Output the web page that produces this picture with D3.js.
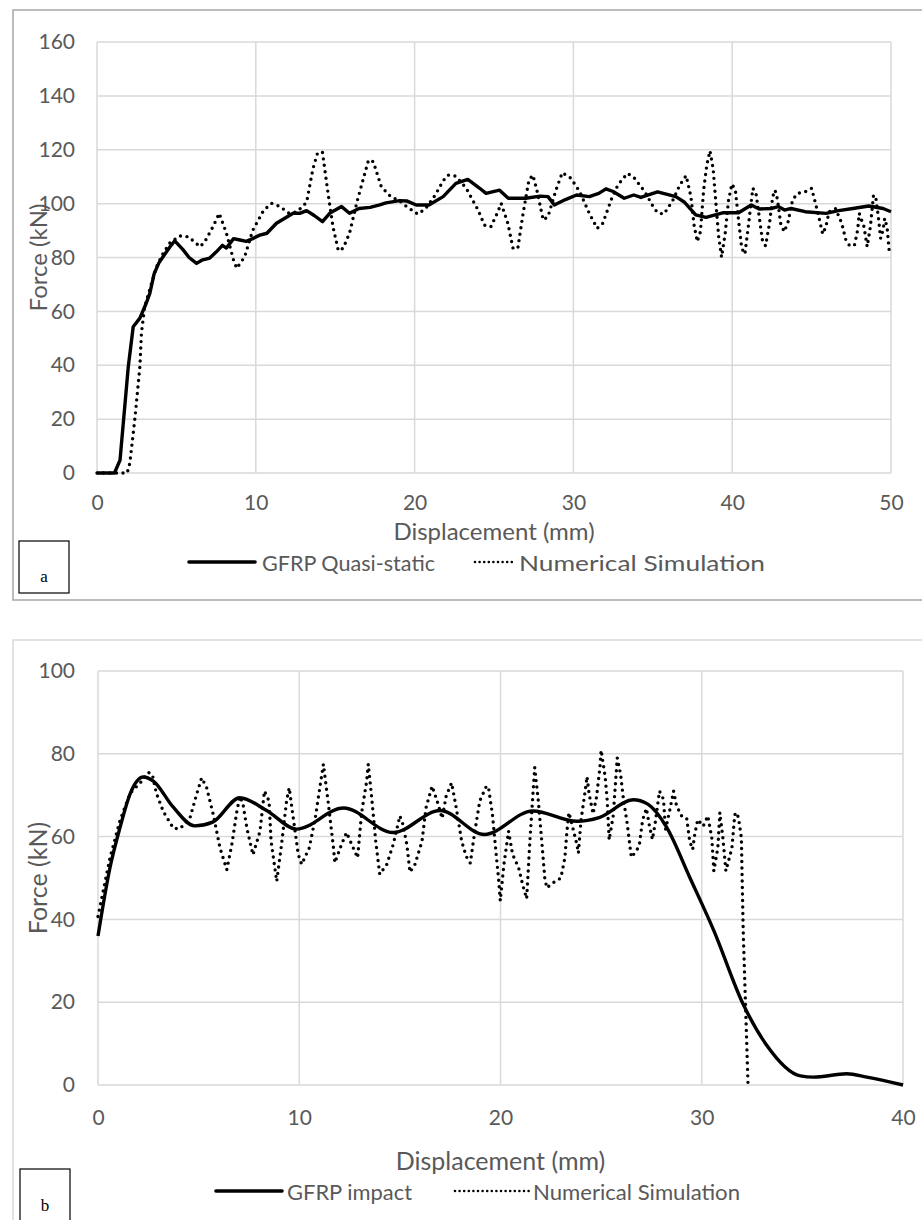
<!DOCTYPE html>
<html><head><meta charset="utf-8">
<script src="https://cdn.jsdelivr.net/npm/d3@7/dist/d3.min.js"></script>
<style>
body{margin:0;background:#fff;}
svg{display:block;}
</style></head>
<body>
<svg id="chart" width="922" height="1220"></svg>
<script>
// ---------- Panel a data ----------
const aXTicks = [0,10,20,30,40,50];
const aYTicks = [0,20,40,60,80,100,120,140,160];
const aQsX = [0,1.1,1.45,1.97,2.28,2.7,3.1,3.33,3.6,3.9,4.16,4.6,4.9,5.4,5.8,6.27,6.6,7.1,7.5,7.9,8.15,8.6,9.0,9.4,9.8,10.25,10.7,11.3,11.8,12.35,12.77,13.2,13.7,14.2,14.65,15.4,15.9,16.5,17.2,17.8,18.2,19.06,19.5,20.1,20.9,21.8,22.6,23.35,24.1,24.5,25.35,25.9,27.0,27.9,28.4,28.8,29.5,30.2,31.0,31.6,32.05,32.5,33.2,33.8,34.25,35.3,36.45,37.0,37.7,38.35,39.4,40.4,41.2,41.7,42.5,42.9,43.3,43.7,44.6,45.9,46.7,47.6,48.6,49.5,50];
const aQsY = [0,0,4.8,39.5,54.3,57.5,63,66.8,74,78,80.3,84,86.2,83,80,77.8,79,79.8,82,84.5,83.5,87,86.5,86,87,88.3,89,92.7,94.5,96.4,96.4,97.4,95.5,93.3,96.4,98.9,96.4,98.2,98.6,99.5,100.3,101.1,101,99.5,99.5,102.6,107.5,109,105.7,103.8,105,102,102,102.8,102.6,99.5,101.5,103.2,102.6,103.8,105.5,104.5,102,103.2,102.3,104.4,102.6,100.5,95.8,94.9,96.6,96.6,99.5,98,98.2,98.9,97.6,98.2,97,96.4,97.4,98.2,99.1,98.2,97];
const aSimX = [0,1.9,2.07,2.4,2.7,2.8,3.0,3.44,3.75,4.17,4.6,5.2,5.75,6.5,6.8,7.3,7.7,8.15,8.6,8.8,9.3,9.8,10.5,11.0,11.5,12.1,12.6,13.2,13.6,13.9,14.2,14.55,14.86,15.2,15.5,15.9,16.4,17.1,17.4,17.9,18.5,19.06,19.5,20.2,20.7,21.3,21.8,22.1,22.6,23.25,24.0,24.4,24.8,25.25,25.45,25.87,26.2,26.5,26.8,27.2,27.45,27.7,28.1,28.4,28.9,29.3,29.85,30.4,31.0,31.5,31.85,32.4,32.8,33.4,33.8,34.5,35.0,35.3,35.7,36.25,36.7,37.1,37.4,37.6,37.8,38.0,38.2,38.4,38.6,38.8,39.0,39.15,39.33,39.56,39.77,39.98,40.2,40.4,40.6,40.8,41.0,41.3,41.5,41.7,41.9,42.1,42.35,42.55,42.7,42.85,43.05,43.27,43.5,43.8,44.1,44.6,45.0,45.26,45.5,45.7,45.9,46.1,46.5,46.9,47.15,47.4,47.7,47.9,48.0,48.3,48.5,48.7,48.9,49.05,49.2,49.35,49.5,49.6,49.75,49.9];
const aSimY = [0,0,3.7,21,39.5,52,61.7,70.5,76.6,81.6,85.5,88,87.7,84,86,91.4,96.4,89,79,76,80.3,90,97.6,100.1,99,96.4,97,100.5,113,119,119,103.8,91.4,82.5,83.4,89,101.3,116.2,115.6,106.3,102.6,101,98.9,96.1,98.2,103.2,108.5,110.6,110.2,105.7,97.6,92,91.4,97,100.1,92.7,83.4,83.4,95.2,108.8,110.6,105,93.9,95.2,105,111.5,109.4,104.4,96.4,90.8,92.7,101.7,106.9,111.2,109.8,104.4,99.1,96.6,96.1,101.1,106.9,110.4,102.6,92,85.9,89.6,105,114.3,119.6,113,98.2,87.7,80.1,89,101.3,107.3,105,93.9,83.4,81.3,90.8,105.7,103.8,95.2,86.5,84.3,92.7,102.6,105,101.6,92.7,89.6,92.7,101.3,103.8,104.4,105.7,99.8,93.9,88.7,91.4,97,98.2,92.7,86.7,84.3,84.6,90.2,96.4,91.4,84,91.4,103.2,102,95.2,87.1,90.2,94.5,91.4,81.6];

// ---------- Panel b data ----------
const bXTicks = [0,10,20,30,40];
const bYTicks = [0,20,40,60,80,100];
const bImpX = [0,0.6,1.1,1.6,2.25,2.75,3.74,4.8,5.7,7.05,8.38,9.87,12.2,14.67,17.0,19.2,21.6,23.8,24.9,26.6,27.3,28.25,29.4,30.6,32.06,33.2,34.9,35.55,37.2,38.2,40];
const bImpY = [36,52.6,62.3,70.4,74.4,73.4,67.1,62.6,63.5,69.4,66.3,61.8,66.9,61,66.3,60.5,66.2,63.7,64.6,68.9,67.9,62.3,50.2,37.3,19.5,9.8,2.2,1.9,2.7,1.9,0];
const bSimX = [0,0.6,1.1,1.6,2.1,2.5,2.7,2.9,3.25,3.75,4.07,4.57,4.9,5.15,5.4,5.73,6.06,6.4,6.65,6.9,7.05,7.2,7.4,7.7,8.05,8.27,8.5,8.6,8.88,9.1,9.37,9.5,9.7,9.95,10.12,10.5,10.8,11.05,11.2,11.45,11.7,11.77,12.1,12.35,12.68,12.9,13.1,13.35,13.43,13.6,13.8,14.0,14.35,14.67,15.0,15.15,15.35,15.5,15.75,16.1,16.3,16.6,16.85,17.1,17.3,17.57,17.8,18.07,18.3,18.5,18.7,18.97,19.3,19.4,19.6,19.77,19.9,19.99,20.17,20.4,20.6,20.9,21.1,21.3,21.46,21.6,21.7,21.88,22.05,22.2,22.3,22.6,23.0,23.2,23.3,23.4,23.6,23.8,23.87,24.0,24.2,24.3,24.4,24.6,24.77,24.94,25.0,25.2,25.3,25.4,25.6,25.8,25.97,26.1,26.3,26.5,26.75,26.9,27.06,27.25,27.4,27.55,27.7,27.9,28.1,28.2,28.4,28.6,28.75,29.0,29.25,29.4,29.55,29.65,29.8,30.07,30.3,30.5,30.6,30.8,30.9,31.05,31.2,31.4,31.5,31.64,31.76,31.85,31.97,32.0,32.06,32.3];
const bSimY = [40.7,55,64,70.5,73,75.5,75,70.5,66,62,61.9,64.5,70.2,74.2,71.8,65.3,57.3,52,58.1,66.1,69.7,68,62,55.6,61.3,71,68.6,58.9,49.2,57.3,68.6,71.8,64.6,55.7,53.3,57.3,64.6,72.7,77.5,67.8,57.3,53.7,58.1,61,57.3,54.9,65.8,73.4,77.5,69.4,58.9,50.9,53.3,58.1,65,63,58,51.4,53.3,58.9,67,72.2,68.6,64.4,69.8,73,67,58.9,55.2,53.6,60.5,68.6,72.2,72,65.3,56.5,50,44.5,53.3,61.3,55.7,52.5,48.4,45,58.9,69.4,76.7,68.6,58.9,50,47.6,48.8,50,54.9,61.3,65.8,62,58,56,63.9,70.8,74.5,70.4,65.5,69.5,76.7,80.9,74.5,68.9,59.2,65,79,75,69.4,63,55,56.5,58,64,66.8,62.6,59.3,63.7,71,69,61.7,66.1,71,67.4,65,64.5,58.9,56.9,60.5,64.1,62.5,65,59.7,51.7,57.3,65.8,59.7,51.7,55.4,57.3,65.3,65.8,63.7,59.7,51.7,37.2,0];

const svg = d3.select("#chart");
const SANS = "Lato, 'Open Sans', sans-serif";

function panel(cfg) {
  const g = svg.append("g");
  g.append("rect").attr("x", cfg.frame[0]).attr("y", cfg.frame[1])
    .attr("width", cfg.frame[2]).attr("height", cfg.frame[3])
    .attr("fill", "#fff").attr("stroke", cfg.frameColor).attr("stroke-width", 1.5);

  const x = d3.scaleLinear().domain(cfg.xDom).range([cfg.L, cfg.R]);
  const y = d3.scaleLinear().domain(cfg.yDom).range([cfg.B, cfg.T]);

  g.append("g").selectAll("line").data(cfg.yTicks).join("line")
    .attr("x1", cfg.L).attr("x2", cfg.R)
    .attr("y1", d => y(d)).attr("y2", d => y(d))
    .attr("stroke", "#d9d9d9").attr("stroke-width", 1.5);
  g.append("g").selectAll("line").data(cfg.xTicks).join("line")
    .attr("y1", cfg.T).attr("y2", cfg.B)
    .attr("x1", d => x(d)).attr("x2", d => x(d))
    .attr("stroke", "#d9d9d9").attr("stroke-width", 1.5);

  const ya = g.append("g").attr("transform", `translate(${cfg.L},0)`)
    .call(d3.axisLeft(y).tickValues(cfg.yTicks).tickSize(0).tickPadding(cfg.L - cfg.yLabelRight));
  ya.select(".domain").remove();
  ya.selectAll("text").attr("font-family", SANS).attr("font-size", cfg.tickFs).attr("fill", "#595959");

  const xa = g.append("g").attr("transform", `translate(0,${cfg.B})`)
    .call(d3.axisBottom(x).tickValues(cfg.xTicks).tickSize(0).tickPadding(cfg.xLabelPad));
  xa.select(".domain").remove();
  xa.selectAll("text").attr("font-family", SANS).attr("font-size", cfg.tickFs).attr("fill", "#595959");

  g.append("text").attr("x", (cfg.L + cfg.R) / 2).attr("y", cfg.xTitleY)
    .attr("text-anchor", "middle").attr("dominant-baseline", "central")
    .attr("font-family", SANS).attr("font-size", cfg.titleFs).attr("fill", "#595959")
    .text("Displacement (mm)");
  g.append("text")
    .attr("transform", `translate(${cfg.yTitleX},${(cfg.T + cfg.B) / 2}) rotate(-90)`)
    .attr("text-anchor", "middle").attr("dominant-baseline", "central")
    .attr("font-family", SANS).attr("font-size", cfg.titleFs).attr("fill", "#595959")
    .text("Force (kN)");

  const solid = cfg.s1x.map((v, i) => [v, cfg.s1y[i]]);
  const dotted = cfg.s2x.map((v, i) => [v, cfg.s2y[i]]);
  const lineS = d3.line().x(d => x(d[0])).y(d => y(d[1])).curve(cfg.solidCurve);
  const lineD = d3.line().x(d => x(d[0])).y(d => y(d[1])).curve(d3.curveLinear);
  g.append("path").attr("d", lineD(dotted)).attr("fill", "none")
    .attr("stroke", "#000").attr("stroke-width", 3.4)
    .attr("stroke-dasharray", "0 6.5").attr("stroke-linecap", "round");
  g.append("path").attr("d", lineS(solid)).attr("fill", "none")
    .attr("stroke", "#000").attr("stroke-width", 3.4).attr("stroke-linejoin", "round");

  const lg = g.append("g");
  lg.append("line").attr("x1", cfg.leg.s[0]).attr("x2", cfg.leg.s[1])
    .attr("y1", cfg.leg.y).attr("y2", cfg.leg.y)
    .attr("stroke", "#000").attr("stroke-width", 3.6).attr("stroke-linecap", "round");
  const t1 = lg.append("text").attr("x", cfg.leg.s[2]).attr("y", cfg.leg.y)
    .attr("dominant-baseline", "central").attr("font-family", SANS)
    .attr("font-size", cfg.legFs).attr("fill", "#595959").text(cfg.name1);
  if (cfg.leg.w1) t1.attr("textLength", cfg.leg.w1).attr("lengthAdjust", "spacingAndGlyphs");
  lg.append("line").attr("x1", cfg.leg.d[0]).attr("x2", cfg.leg.d[1])
    .attr("y1", cfg.leg.y).attr("y2", cfg.leg.y)
    .attr("stroke", "#000").attr("stroke-width", 2.6)
    .attr("stroke-dasharray", "0 4.6").attr("stroke-linecap", "round");
  const t2 = lg.append("text").attr("x", cfg.leg.d[2]).attr("y", cfg.leg.y)
    .attr("dominant-baseline", "central").attr("font-family", SANS)
    .attr("font-size", cfg.legFs).attr("fill", "#595959").text("Numerical Simulation");
  if (cfg.leg.w2) t2.attr("textLength", cfg.leg.w2).attr("lengthAdjust", "spacingAndGlyphs");

  g.append("rect").attr("x", cfg.box[0]).attr("y", cfg.box[1])
    .attr("width", cfg.box[2]).attr("height", cfg.box[3])
    .attr("fill", "#fff").attr("stroke", "#000").attr("stroke-width", 1.2);
  g.append("text").attr("x", cfg.box[0] + cfg.box[2] / 2).attr("y", cfg.boxTextY)
    .attr("text-anchor", "middle").attr("dominant-baseline", "central")
    .attr("font-family", "'Liberation Serif', 'DejaVu Serif', serif")
    .attr("font-size", 17).attr("fill", "#000").text(cfg.letter);
}

panel({
  frame: [13, 10, 910, 590], frameColor: "#a6a6a6",
  L: 97, R: 891, T: 42, B: 473,
  xDom: [0, 50], yDom: [0, 160], xTicks: aXTicks, yTicks: aYTicks,
  yLabelRight: 75, xLabelPad: 22, tickFs: 21, titleFs: 24, legFs: 22,
  xTitleY: 530, yTitleX: 37,
  s1x: aQsX, s1y: aQsY, s2x: aSimX, s2y: aSimY, solidCurve: d3.curveLinear,
  name1: "GFRP Quasi-static",
  leg: { y: 562, s: [189, 255, 262], d: [475, 515, 519], w1: 173, w2: 246 },
  box: [19, 541, 50, 52], boxTextY: 576, letter: "a"
});

panel({
  frame: [13, 640, 910, 600], frameColor: "#d9d9d9",
  L: 98, R: 903, T: 671, B: 1085,
  xDom: [0, 40], yDom: [0, 100], xTicks: bXTicks, yTicks: bYTicks,
  yLabelRight: 75, xLabelPad: 25, tickFs: 21, titleFs: 25, legFs: 22,
  xTitleY: 1160, yTitleX: 37,
  s1x: bImpX, s1y: bImpY, s2x: bSimX, s2y: bSimY, solidCurve: d3.curveMonotoneX,
  name1: "GFRP impact",
  leg: { y: 1191, s: [216, 282, 287], d: [455, 529, 533], w1: 125, w2: 207 },
  box: [20, 1169, 50, 60], boxTextY: 1205, letter: "b"
});
</script>
</body></html>
